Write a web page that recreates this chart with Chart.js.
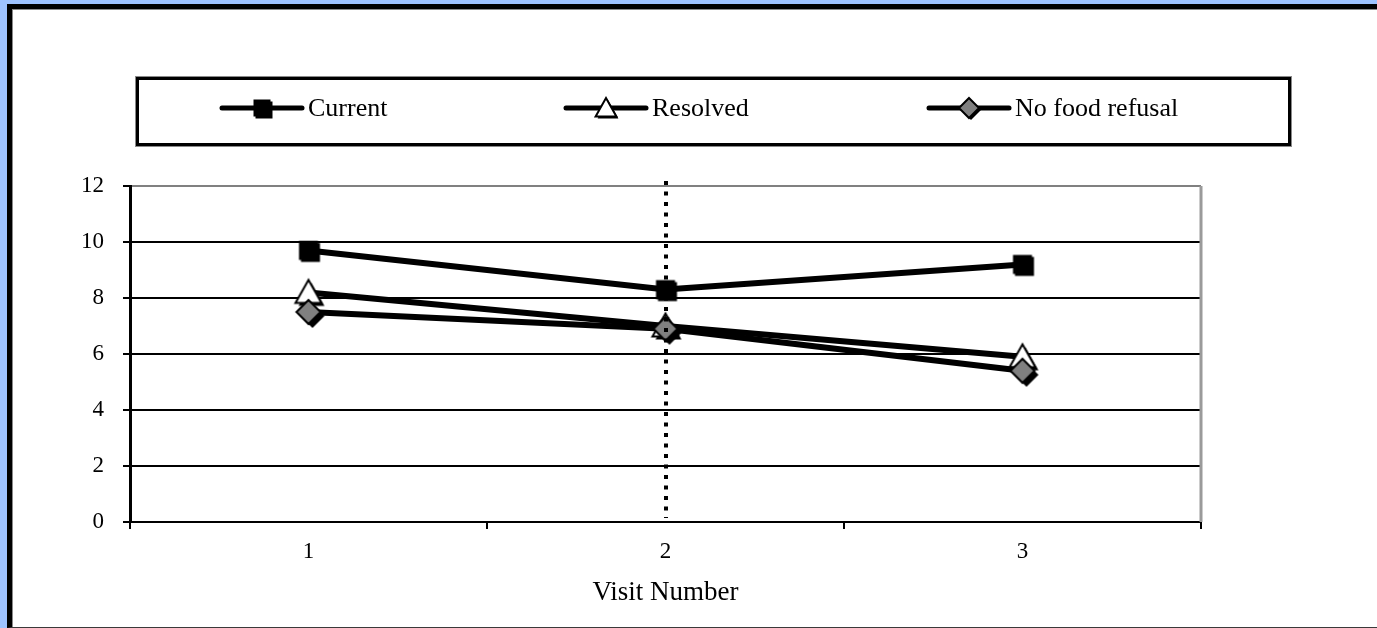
<!DOCTYPE html>
<html>
<head>
<meta charset="utf-8">
<title>Food refusal by visit</title>
<script src="https://cdn.jsdelivr.net/npm/chart.js@4.4.1/dist/chart.umd.min.js"></script>
<style>
  html, body { margin: 0; padding: 0; width: 1377px; height: 628px; overflow: hidden; background: #9ec3ff; }
  #frame {
    position: absolute; left: 7px; top: 4px; right: 0; bottom: 0;
    background: #fff;
    border-left: 5px solid #000; border-top: 5px solid #000; border-bottom: 1px solid #3a3a3a;
    box-shadow: inset 1px 1px 0 #8a8a8a;
  }
  #wrap { position: absolute; left: 0; top: 0; width: 1377px; height: 628px; }
</style>
</head>
<body>
<div id="frame"></div>
<div id="wrap"><canvas id="chart" width="1377" height="628"></canvas></div>
<script>
// Visits and mean scores per group
const visits = ['1', '2', '3'];
const currentValues = [9.7, 8.3, 9.2];
const resolvedValues = [8.2, 7.0, 5.9];
const noRefusalValues = [7.5, 6.9, 5.4];
const seriesNames = ['Current', 'Resolved', 'No food refusal'];
const yTicks = [0, 2, 4, 6, 8, 10, 12];
const dividerVisit = '2';

const SERIF = '"Liberation Serif", "Times New Roman", serif';

// Marker shapes: filled square, open triangle, grey diamond (with a small drop shadow)
function markerPath(ctx, kind, x, y, s) {
  ctx.beginPath();
  if (kind === 'square') {
    ctx.rect(x - s / 2, y - s / 2, s, s);
  } else if (kind === 'triangle') {
    ctx.moveTo(x, y - s * 0.5);
    ctx.lineTo(x + s * 0.52, y + s * 0.42);
    ctx.lineTo(x - s * 0.52, y + s * 0.42);
    ctx.closePath();
  } else {
    ctx.moveTo(x, y - s / 2);
    ctx.lineTo(x + s / 2, y);
    ctx.lineTo(x, y + s / 2);
    ctx.lineTo(x - s / 2, y);
    ctx.closePath();
  }
}
function drawMarker(ctx, kind, x, y, s, shadow) {
  const fills = { square: '#000', triangle: '#fff', diamond: '#808080' };
  if (shadow) {
    markerPath(ctx, kind, x + shadow, y + shadow, s);
    ctx.fillStyle = '#000';
    ctx.fill();
  }
  markerPath(ctx, kind, x, y, s);
  ctx.fillStyle = fills[kind];
  ctx.fill();
  if (kind !== 'square') {
    ctx.lineWidth = 2;
    ctx.strokeStyle = '#000';
    ctx.lineJoin = 'miter';
    ctx.stroke();
  }
}
function markerImage(kind, s, shadow) {
  const c = document.createElement('canvas');
  c.width = 48; c.height = 48;
  drawMarker(c.getContext('2d'), kind, 24, 24, s, shadow);
  return c;
}

const kinds = ['square', 'triangle', 'diamond'];
const markerSizes = { square: 19, triangle: 25, diamond: 24 };
const markerShadows = { square: 2, triangle: 3, diamond: 4 };
const seriesValues = [currentValues, resolvedValues, noRefusalValues];

const datasets = seriesNames.map((name, i) => ({
  label: name,
  data: seriesValues[i],
  markerKind: kinds[i],
  borderColor: '#000',
  backgroundColor: '#000',
  borderWidth: 6,
  tension: 0,
  fill: false,
  pointStyle: markerImage(kinds[i], markerSizes[kinds[i]], markerShadows[kinds[i]]),
  pointRadius: 12,
  pointHoverRadius: 12,
  order: 3 - i
}));

// Boxed legend, plot frame and dotted divider
const decorations = {
  id: 'decorations',
  beforeDatasetsDraw(chart) {
    const { ctx, chartArea } = chart;
    ctx.save();
    ctx.strokeStyle = '#9a9a9a';
    ctx.lineWidth = 3;
    ctx.beginPath();
    ctx.moveTo(chartArea.right, chartArea.top);
    ctx.lineTo(chartArea.right, chartArea.bottom);
    ctx.stroke();
    ctx.restore();
  },
  afterDatasetsDraw(chart) {
    const { ctx, chartArea } = chart;
    const x = Math.round(chart.scales.x.getPixelForValue(visits.indexOf(dividerVisit)));
    ctx.save();
    ctx.strokeStyle = '#000';
    ctx.lineWidth = 4;
    ctx.setLineDash([4, 6.5]);
    ctx.beginPath();
    ctx.moveTo(x, chartArea.top - 5);
    ctx.lineTo(x, chartArea.bottom - 4);
    ctx.stroke();
    ctx.restore();
  },
  afterDraw(chart, args, opts) {
    const { ctx } = chart;
    const b = opts.box;
    ctx.save();
    ctx.strokeStyle = '#8a8a8a';
    ctx.lineWidth = 1;
    ctx.strokeRect(b.left - 1.5, b.top - 1.5, b.right - b.left + 3, b.bottom - b.top + 3);
    ctx.strokeStyle = '#000';
    ctx.lineWidth = 3;
    ctx.strokeRect(b.left + 0.5, b.top + 0.5, b.right - b.left - 1, b.bottom - b.top - 1);
    ctx.font = opts.font;
    ctx.textBaseline = 'middle';
    chart.data.datasets.forEach((ds, i) => {
      const x0 = opts.starts[i];
      const y = opts.y;
      ctx.strokeStyle = '#000';
      ctx.lineWidth = 5;
      ctx.lineCap = 'round';
      ctx.beginPath();
      ctx.moveTo(x0, y);
      ctx.lineTo(x0 + opts.lineLength, y);
      ctx.stroke();
      const k = ds.markerKind;
      drawMarker(ctx, k, x0 + opts.lineLength / 2, y, opts.sizes[k], 2);
      ctx.fillStyle = '#000';
      ctx.fillText(ds.label, x0 + opts.lineLength + opts.gap, y + 1);
    });
    ctx.restore();
  }
};

new Chart(document.getElementById('chart'), {
  type: 'line',
  data: { labels: visits, datasets },
  plugins: [decorations],
  options: {
    responsive: false,
    animation: false,
    events: [],
    layout: { padding: { top: 186, right: 176, left: 0, bottom: 0 } },
    plugins: {
      legend: { display: false },
      tooltip: { enabled: false },
      decorations: {
        box: { left: 137, top: 78, right: 1290, bottom: 145 },
        starts: [222, 566, 929],
        y: 108,
        lineLength: 80,
        gap: 6,
        font: '26px ' + SERIF,
        sizes: { square: 17, triangle: 20, diamond: 20 }
      }
    },
    scales: {
      x: {
        type: 'category',
        offset: true,
        grid: { offset: true, drawOnChartArea: false, drawTicks: true, tickLength: 7, color: '#000', lineWidth: 2 },
        border: { display: true, color: '#000', width: 2 },
        ticks: { color: '#000', font: { family: SERIF, size: 23 }, padding: 9, maxRotation: 0 },
        title: { display: true, text: 'Visit Number', color: '#000', font: { family: SERIF, size: 27 }, padding: { top: 0, bottom: 19 } },
        afterFit(scale) { scale.height = 106; }
      },
      y: {
        min: 0,
        max: 12,
        afterBuildTicks(scale) { scale.ticks = yTicks.map(v => ({ value: v })); },
        ticks: { color: '#000', font: { family: SERIF, size: 23 }, padding: 19 },
        grid: {
          color: ctx => (ctx.tick && ctx.tick.value === 12 ? '#808080' : '#000'),
          lineWidth: 2,
          tickLength: 7,
          tickColor: '#000'
        },
        border: { display: true, color: '#000', width: 3 },
        afterFit(scale) { scale.width = 130; }
      }
    }
  }
});
</script>
</body>
</html>
